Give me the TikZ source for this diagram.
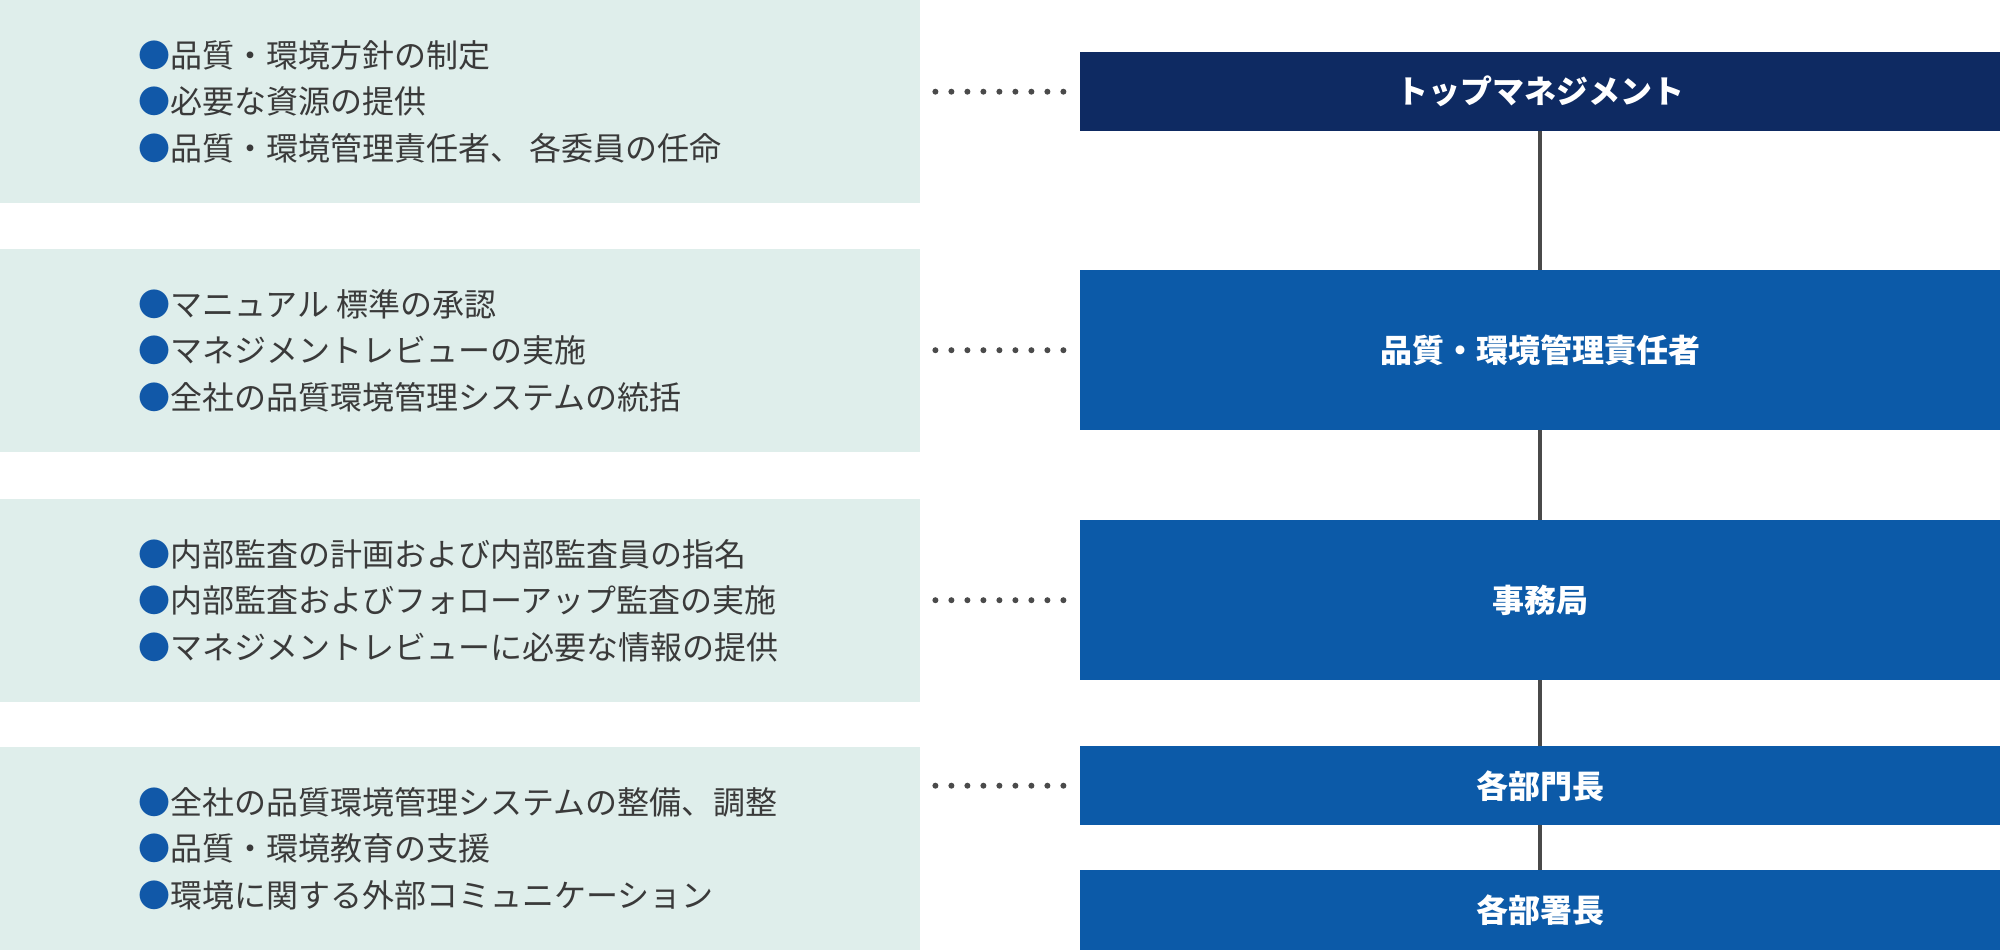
\documentclass[tikz,border=0pt]{standalone}
\usepackage{fontspec}
\setmainfont{Noto Sans CJK JP}
\usetikzlibrary{positioning}

\definecolor{mint}{HTML}{DFEEEB}
\definecolor{navy}{HTML}{0E2A62}
\definecolor{roleblue}{HTML}{0C5AA8}
\definecolor{bulletblue}{HTML}{1158A8}
\definecolor{inkgray}{HTML}{3A3A3A}
\definecolor{linegray}{HTML}{4A4A4A}
\newcommand{\bul}{{\color{bulletblue}●}}

\begin{document}
\begin{tikzpicture}[x=1pt,y=-1pt,
    panel/.style={fill=mint, minimum width=920pt, minimum height=203pt, inner sep=0pt, anchor=north west},
    duties/.style={align=left, text=inkgray, inner sep=0pt, font=\fontsize{32}{46.5}\selectfont},
    role/.style={fill=#1, text=white, minimum width=920pt, inner sep=0pt, anchor=north west, font=\bfseries\fontsize{32}{38}\selectfont},
    role/.default=roleblue,
    leader/.style={linegray, line width=6pt, line cap=round, dash pattern=on 0pt off 16pt, shorten <=15pt, shorten >=16pt},
    link/.style={linegray, line width=3.5pt}]
    \useasboundingbox (0,0) rectangle (2000,950);
    % left panels
    \node[panel] (P1) at (0,0) {};
    \node[panel] (P2) at (0,249) {};
    \node[panel] (P3) at (0,499) {};
    \node[panel] (P4) at (0,747) {};
    \node[duties, right=138pt of P1.west] (D1) {\bul 品質・環境方針の制定\\ \bul 必要な資源の提供\\ \bul 品質・環境管理責任者、 各委員の任命};
    \node[duties, right=138pt of P2.west] (D2) {\bul マニュアル 標準の承認\\ \bul マネジメントレビューの実施\\ \bul 全社の品質環境管理システムの統括};
    \node[duties, right=138pt of P3.west] (D3) {\bul 内部監査の計画および内部監査員の指名\\ \bul 内部監査およびフォローアップ監査の実施\\ \bul マネジメントレビューに必要な情報の提供};
    \node[duties, right=138pt of P4.west] (D4) {\bul 全社の品質環境管理システムの整備、調整\\ \bul 品質・環境教育の支援\\ \bul 環境に関する外部コミュニケーション};
    % right boxes
    \node[role=navy, minimum height=79pt] (TM) at (1080,52) {トップマネジメント};
    \node[role, minimum height=160pt] (QM) at (1080,270) {品質・環境管理責任者};
    \node[role, minimum height=160pt] (SE) at (1080,520) {事務局};
    \node[role, minimum height=79pt] (DH) at (1080,746) {各部門長};
    \node[role, minimum height=80pt] (SH) at (1080,870) {各部署長};
    \draw[link] (TM) -- (QM);
    \draw[link] (QM) -- (SE);
    \draw[link] (SE) -- (DH);
    \draw[link] (DH) -- (SH);
    \draw[leader] (TM.west -| P1.east) -- (TM.west);
    \draw[leader] (QM.west -| P2.east) -- (QM.west);
    \draw[leader] (SE.west -| P3.east) -- (SE.west);
    \draw[leader] (DH.west -| P4.east) -- (DH.west);
\end{tikzpicture}
\end{document}
